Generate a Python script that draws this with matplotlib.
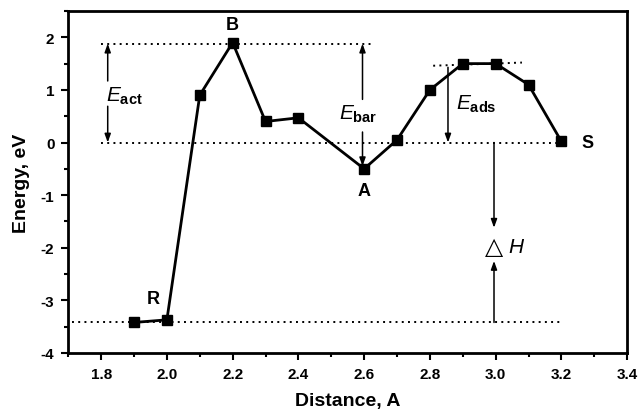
import numpy as np
import matplotlib
matplotlib.use('Agg')
import matplotlib.pyplot as plt
from matplotlib.ticker import MultipleLocator

plt.rcParams['font.family'] = ['Liberation Sans', 'DejaVu Sans']
plt.rcParams['mathtext.fontset'] = 'custom'
plt.rcParams['mathtext.rm'] = 'Liberation Sans'
plt.rcParams['mathtext.it'] = 'Liberation Sans:italic'
plt.rcParams['mathtext.bf'] = 'Liberation Sans:bold'
plt.rcParams['axes.unicode_minus'] = False

distance = [1.9, 2.0, 2.1, 2.2, 2.3, 2.4, 2.6, 2.7, 2.8, 2.9, 3.0, 3.1, 3.2]
energy = [-3.42, -3.37, 0.9, 1.9, 0.4, 0.47, -0.5, 0.05, 1.0, 1.5, 1.5, 1.1, 0.02]

# reference levels (dotted)
level_b = 1.88
level_zero = 0.0
level_r = -3.42

fig = plt.figure(figsize=(6.38, 4.14), dpi=100)
ax = fig.add_axes([0.107, 0.145, 0.876, 0.826])

ax.plot(distance, energy, color='k', lw=2, marker='s', ms=6.5)

dots = dict(color='k', ls=(0, (1, 2.2)), lw=1.4)
ax.plot([1.8, 2.62], [level_b, level_b], **dots)
ax.plot([1.8, 3.2], [level_zero, level_zero], **dots)
ax.plot([1.71, 3.2], [level_r, level_r], **dots)
ax.plot([2.81, 3.08], [1.46, 1.52], **dots)

arr = dict(arrowstyle='-|>,head_length=0.5,head_width=0.18', color='k', lw=1.1,
           shrinkA=0, shrinkB=0)

def arrow(x, y0, y1):
    ax.annotate('', xy=(x, y1), xytext=(x, y0), arrowprops=arr)

# E_act
arrow(1.82, 1.17, level_b)
arrow(1.82, 0.69, level_zero)
ax.text(1.815, 0.9, r'$E_{\mathbf{act}}$', fontsize=15, va='center', ha='left')
# E_bar
arrow(2.595, 0.82, level_b)
arrow(2.595, 0.2, -0.45)
ax.text(2.525, 0.55, r'$E_{\mathbf{bar}}$', fontsize=15, va='center', ha='left')
# E_ads
arrow(2.855, 1.43, level_zero)
ax.text(2.88, 0.75, r'$E_{\mathbf{ads}}$', fontsize=15, va='center', ha='left')
# Delta H
arrow(2.995, level_zero, -1.62)
arrow(2.995, level_r, -2.25)
ax.text(2.995, -1.97, '△', fontsize=17, ha='center', va='center', family='DejaVu Sans',
        fontweight='bold')
ax.text(3.04, -1.97, 'H', fontsize=15, ha='left', va='center', style='italic')

lab = dict(fontsize=13, ha='center', va='center', fontweight='bold')
ax.text(2.2, 2.25, 'B', **lab)
ax.text(1.96, -2.97, 'R', **lab)
ax.text(2.6, -0.92, 'A', **lab)
ax.text(3.28, 0.0, 'S', **lab)

ax.set_xlim(1.7, 3.4)
ax.set_ylim(-4, 2.5)
ax.xaxis.set_minor_locator(MultipleLocator(0.1))
ax.yaxis.set_major_locator(MultipleLocator(1))
ax.yaxis.set_minor_locator(MultipleLocator(0.5))
ax.set_xticks(np.arange(1.8, 3.41, 0.2))
ax.set_xticklabels(['%.1f' % v for v in np.arange(1.8, 3.41, 0.2)])
ax.tick_params(which='both', direction='out', width=1.5, labelsize=11)
ax.tick_params(which='major', length=5, pad=5)
ax.tick_params(which='minor', length=3)
for t in ax.get_xticklabels() + ax.get_yticklabels():
    t.set_fontweight('bold')
for s in ax.spines.values():
    s.set_linewidth(2)

ax.set_xlabel('Distance, A', fontsize=14, fontweight='bold', labelpad=8)
ax.set_ylabel('Energy, eV', fontsize=14, fontweight='bold', labelpad=8)

fig.savefig('out.png', dpi=100)
